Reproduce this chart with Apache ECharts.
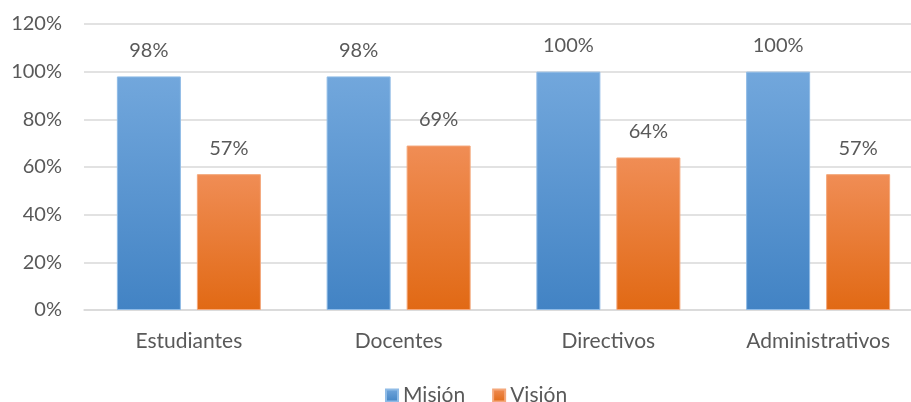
<!DOCTYPE html>
<html>
<head>
<meta charset="utf-8">
<script src="https://cdn.jsdelivr.net/npm/echarts@6/dist/echarts.min.js"></script>
<style>
  html, body { margin: 0; padding: 0; background: #fff; }
  #chart { width: 911px; height: 402px; }
</style>
</head>
<body>
<div id="chart"></div>
<script>
// categorias y valores (%)
var categorias = ['Estudiantes', 'Docentes', 'Directivos', 'Administrativos'];
var mision = [98, 98, 100, 100];
var vision = [57, 69, 64, 57];
var ticksY = [0, 20, 40, 60, 80, 100, 120];

var textColor = '#595959';
var fuente = 'Lato';

function degradado(arriba, abajo) {
  return new echarts.graphic.LinearGradient(0, 0, 0, 1, [
    { offset: 0, color: arriba },
    { offset: 1, color: abajo }
  ]);
}

var myChart = echarts.init(document.getElementById('chart'));
var option = {
  animation: false,
  grid: {
    top: 24,
    bottom: 92,
    left: 84,
    width: 839,
    outerBoundsMode: 'none'
  },
  legend: {
    top: 380,
    left: 380,
    icon: 'rect',
    itemWidth: 12,
    itemHeight: 12,
    itemGap: 27,
    textStyle: { color: textColor, fontSize: 21, fontFamily: fuente },
    data: ['Misión', 'Visión']
  },
  xAxis: {
    type: 'category',
    data: categorias,
    axisLine: { lineStyle: { color: '#d9d9d9', width: 1.5 } },
    axisTick: { show: false },
    axisLabel: { color: textColor, fontSize: 21, fontFamily: fuente, margin: 21 }
  },
  yAxis: {
    type: 'value',
    min: ticksY[0],
    max: ticksY[ticksY.length - 1],
    interval: 20,
    axisLine: { show: false },
    axisTick: { show: false },
    splitLine: { lineStyle: { color: '#d9d9d9', width: 1.5 } },
    axisLabel: {
      color: textColor, fontSize: 20, fontFamily: fuente, margin: 22,
      formatter: '{value}%'
    }
  },
  series: [
    {
      name: 'Misión',
      type: 'bar',
      data: mision,
      barWidth: 64,
      barGap: '25%',
      itemStyle: { color: degradado('#72a7dc', '#4283c4'), borderColor: '#8fbbe6', borderWidth: 1 },
      label: {
        show: true, position: 'top', distance: 16,
        formatter: '{c}%', color: textColor, fontSize: 20, fontFamily: fuente
      }
    },
    {
      name: 'Visión',
      type: 'bar',
      data: vision,
      barWidth: 64,
      itemStyle: { color: degradado('#f08d55', '#e16914'), borderColor: '#f4a77a', borderWidth: 1 },
      label: {
        show: true, position: 'top', distance: 16,
        formatter: '{c}%', color: textColor, fontSize: 20, fontFamily: fuente
      }
    }
  ]
};
myChart.setOption(option);
</script>
</body>
</html>
